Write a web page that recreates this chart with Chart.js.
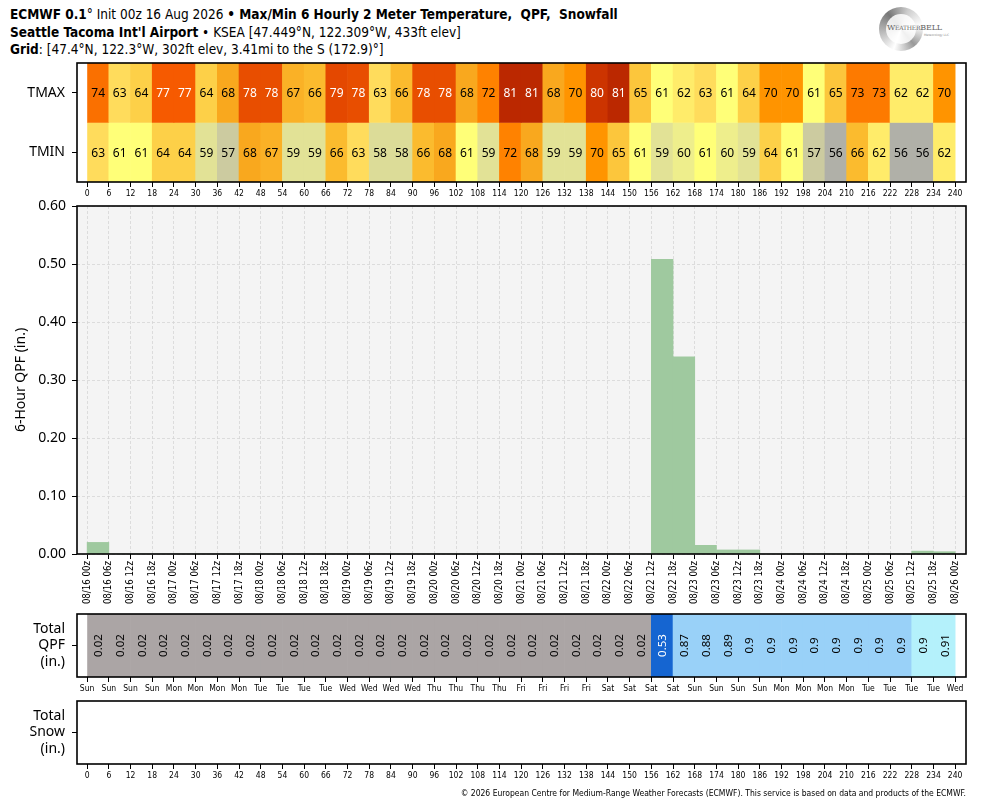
<!DOCTYPE html>
<html>
<head>
<meta charset="utf-8">
<script src="https://cdn.jsdelivr.net/npm/chart.js@4.4.1/dist/chart.umd.min.js"></script>
<style>
  body { margin: 0; background: #fff; width: 984px; height: 808px; position: relative; overflow: hidden; }
  canvas { position: absolute; left: 0; }
  #hdr { position: absolute; left: 10px; top: 6px; font-family: 'DejaVu Sans Condensed', 'Liberation Sans Narrow', sans-serif; font-size: 13.5px; line-height: 17.5px; color: #000; white-space: nowrap; }
  #hdr b { font-weight: bold; }
  #foot { position: absolute; right: 18px; top: 788px; font-family: 'DejaVu Sans Condensed', 'Liberation Sans Narrow', sans-serif; font-size: 8.5px; color: #000; white-space: nowrap; }
  #logo { position: absolute; left: 879px; top: 7px; width: 44px; height: 44px; border-radius: 50%;
          background: conic-gradient(from 200deg, #fff, #bbb, #777, #ccc, #fff, #999, #fff); }
  #logo:after { content: ''; position: absolute; left: 7px; top: 7px; width: 30px; height: 30px; border-radius: 50%; background: rgba(255,255,255,0.85); }
  #logotxt { position: absolute; left: 887px; top: 23px; font-family: 'DejaVu Serif', serif; font-size: 8px; color: #666; font-variant: small-caps; letter-spacing: -0.2px; }
  #logollc { position: absolute; left: 924px; top: 33px; font-family: 'DejaVu Sans', sans-serif; font-size: 3px; color: #888; }
</style>
</head>
<body>
<div id="hdr">
  <div><b>ECMWF 0.1</b>° Init 00z 16 Aug 2026 <b>• Max/Min 6 Hourly 2 Meter Temperature,&nbsp; QPF,&nbsp; Snowfall</b></div>
  <div><b>Seattle Tacoma Int'l Airport</b> • KSEA [47.449°N, 122.309°W, 433ft elev]</div>
  <div><b>Grid</b>: [47.4°N, 122.3°W, 302ft elev, 3.41mi to the S (172.9)°]</div>
</div>
<div id="logo"></div>
<div id="logotxt">WeatherBELL</div>
<div id="logollc">Meteorology LLC</div>

<canvas id="temp" width="984" height="154" style="top:50px"></canvas>
<canvas id="qpf" width="984" height="424" style="top:190px"></canvas>
<canvas id="total" width="984" height="102" style="top:598px"></canvas>
<canvas id="snow" width="984" height="106" style="top:685px"></canvas>

<div id="foot">© 2026 European Centre for Medium-Range Weather Forecasts (ECMWF). This service is based on data and products of the ECMWF.</div>

<script>
// forecast hours (tick positions) and 6-hour period starts
const hours = [0, 6, 12, 18, 24, 30, 36, 42, 48, 54, 60, 66, 72, 78, 84, 90, 96, 102, 108, 114, 120,
  126, 132, 138, 144, 150, 156, 162, 168, 174, 180, 186, 192, 198, 204, 210, 216, 222, 228, 234, 240];
const periodStart = hours.slice(0, 40);

const dateLabels = ['08/16 00z', '08/16 06z', '08/16 12z', '08/16 18z', '08/17 00z', '08/17 06z', '08/17 12z', '08/17 18z',
  '08/18 00z', '08/18 06z', '08/18 12z', '08/18 18z', '08/19 00z', '08/19 06z', '08/19 12z', '08/19 18z',
  '08/20 00z', '08/20 06z', '08/20 12z', '08/20 18z', '08/21 00z', '08/21 06z', '08/21 12z', '08/21 18z',
  '08/22 00z', '08/22 06z', '08/22 12z', '08/22 18z', '08/23 00z', '08/23 06z', '08/23 12z', '08/23 18z',
  '08/24 00z', '08/24 06z', '08/24 12z', '08/24 18z', '08/25 00z', '08/25 06z', '08/25 12z', '08/25 18z', '08/26 00z'];
const dayLabels = ['Sun', 'Sun', 'Sun', 'Sun', 'Mon', 'Mon', 'Mon', 'Mon', 'Tue', 'Tue', 'Tue', 'Tue',
  'Wed', 'Wed', 'Wed', 'Wed', 'Thu', 'Thu', 'Thu', 'Thu', 'Fri', 'Fri', 'Fri', 'Fri', 'Sat', 'Sat', 'Sat', 'Sat',
  'Sun', 'Sun', 'Sun', 'Sun', 'Mon', 'Mon', 'Mon', 'Mon', 'Tue', 'Tue', 'Tue', 'Tue', 'Wed'];

const tmax = [74, 63, 64, 77, 77, 64, 68, 78, 78, 67, 66, 79, 78, 63, 66, 78, 78, 68, 72, 81,
  81, 68, 70, 80, 81, 65, 61, 62, 63, 61, 64, 70, 70, 61, 65, 73, 73, 62, 62, 70];
const tmin = [63, 61, 61, 64, 64, 59, 57, 68, 67, 59, 59, 66, 63, 58, 58, 66, 68, 61, 59, 72,
  68, 59, 59, 70, 65, 61, 59, 60, 61, 60, 59, 64, 61, 57, 56, 66, 62, 56, 56, 62];

// 6-hour QPF (in.)
const qpf6h = [0.02, 0, 0, 0, 0, 0, 0, 0, 0, 0, 0, 0, 0, 0, 0, 0, 0, 0, 0, 0,
  0, 0, 0, 0, 0, 0, 0.508, 0.34, 0.015, 0.007, 0.007, 0, 0, 0, 0, 0, 0, 0, 0.005, 0.004];
// running total QPF (in.)
const totalQpf = [0.02, 0.02, 0.02, 0.02, 0.02, 0.02, 0.02, 0.02, 0.02, 0.02, 0.02, 0.02, 0.02, 0.02, 0.02, 0.02,
  0.02, 0.02, 0.02, 0.02, 0.02, 0.02, 0.02, 0.02, 0.02, 0.02, 0.528, 0.868, 0.883, 0.89, 0.897, 0.897,
  0.897, 0.897, 0.897, 0.897, 0.897, 0.897, 0.902, 0.906];
const totalSnow = [0, 0, 0, 0, 0, 0, 0, 0, 0, 0, 0, 0, 0, 0, 0, 0, 0, 0, 0, 0,
  0, 0, 0, 0, 0, 0, 0, 0, 0, 0, 0, 0, 0, 0, 0, 0, 0, 0, 0, 0];

const NARROW = "'DejaVu Sans Condensed', 'Liberation Sans Narrow', sans-serif";
const SANS = "'Noto Sans', 'Open Sans', sans-serif";
const X_MIN = -2.8, X_MAX = 243;

const tempColors = {
  56: '#b0b0a8', 57: '#cccba0', 58: '#dcdc98', 59: '#e2e296', 60: '#eeee8c', 61: '#ffff78', 62: '#ffec6a',
  63: '#ffdc5c', 64: '#fdd048', 65: '#fcc63c', 66: '#fbbb2e', 67: '#fab126', 68: '#f9a81e', 70: '#ff9400',
  72: '#ff8200', 73: '#fd7a00', 74: '#fa7000', 77: '#f65a00', 78: '#e84e00', 79: '#e44800',
  80: '#cc3400', 81: '#bb2800'
};
function tempColor(v) { return tempColors[v] || '#ffffff'; }
function qpfColor(v) {
  if (v <= 0) return 'rgba(0,0,0,0)';
  if (v < 0.1) return '#aba5a5';
  if (v < 0.75) return '#1565d1';
  if (v < 0.9) return '#99d1f8';
  return '#b4f1fb';
}

function cells(values, row) {
  return values.map((v, i) => ({ x: [periodStart[i], periodStart[i] + 6], y: row }));
}
function fixTicks(scale) { scale.ticks = hours.map(h => ({ value: h })); }

function frame(fill) {
  return {
    id: 'frame',
    beforeDraw(chart) {
      if (!fill) return;
      const a = chart.chartArea, ctx = chart.ctx;
      ctx.save(); ctx.fillStyle = fill; ctx.fillRect(a.left, a.top, a.width, a.height); ctx.restore();
    },
    afterDraw(chart) {
      const a = chart.chartArea, ctx = chart.ctx;
      ctx.save(); ctx.strokeStyle = '#000'; ctx.lineWidth = 1.6;
      ctx.strokeRect(a.left, a.top, a.width, a.height); ctx.restore();
    }
  };
}

function cellText(format, textColor, rotate, size) {
  return {
    id: 'cellText',
    afterDatasetsDraw(chart) {
      const ctx = chart.ctx;
      ctx.save();
      ctx.font = size + 'px ' + SANS;
      ctx.textAlign = 'center';
      ctx.textBaseline = 'middle';
      chart.data.datasets.forEach((ds, di) => {
        chart.getDatasetMeta(di).data.forEach((bar, i) => {
          const v = ds.values[i];
          const txt = format(v);
          if (txt === '') return;
          const p = bar.getCenterPoint();
          ctx.fillStyle = textColor(v);
          ctx.save();
          ctx.translate(p.x, p.y);
          if (rotate) ctx.rotate(-Math.PI / 2);
          ctx.fillText(txt, 0, 1);
          ctx.restore();
        });
      });
      ctx.restore();
    }
  };
}

function xAxis(labelFn, height, rotation, gridOnArea) {
  return {
    type: 'linear', min: X_MIN, max: X_MAX, offset: false,
    afterBuildTicks: fixTicks,
    afterFit(s) { s.height = height; s.paddingLeft = 0; s.paddingRight = 0; },
    ticks: { autoSkip: false, maxRotation: rotation, minRotation: rotation, padding: 2, color: '#000',
      font: { family: NARROW, size: rotation ? 9.6 : 8.5 }, callback: labelFn },
    grid: { offset: false, drawOnChartArea: gridOnArea, color: '#d6d6d6', lineWidth: 0.8,
      tickLength: 5, tickColor: '#000', tickWidth: 1, tickBorderDash: [] },
    border: { display: false, dash: [3, 2] }
  };
}
function yCat(width) {
  return {
    type: 'category', offset: true,
    afterFit(s) { s.width = width; s.paddingTop = 0; s.paddingBottom = 0; },
    ticks: { color: '#000', padding: 7, font: { family: SANS, size: 14 }, lineHeight: 1.25 },
    grid: { offset: false, drawOnChartArea: false, tickLength: 5, tickColor: '#000', tickWidth: 1 },
    border: { display: false }
  };
}
const barOpts = { bar: { categoryPercentage: 1, barPercentage: 1, grouped: false, borderWidth: 0 } };
const noPlugins = { legend: { display: false }, tooltip: { enabled: false } };

// temperature strip
new Chart(document.getElementById('temp'), {
  type: 'bar',
  data: {
    labels: ['TMAX', 'TMIN'],
    datasets: [
      { label: 'TMAX', data: cells(tmax, 'TMAX'), values: tmax, backgroundColor: tmax.map(tempColor) },
      { label: 'TMIN', data: cells(tmin, 'TMIN'), values: tmin, backgroundColor: tmin.map(tempColor) }
    ]
  },
  options: {
    indexAxis: 'y', responsive: false, animation: false, devicePixelRatio: 1,
    datasets: barOpts,
    layout: { padding: { top: 13, right: 18, left: 0, bottom: 0 } },
    scales: { x: xAxis(v => v, 22, 0, false), y: yCat(77) },
    plugins: noPlugins
  },
  plugins: [frame(null), cellText(v => String(v), v => v >= 77 ? '#fff' : '#000', false, 12)]
});

// 6-hour QPF bars
new Chart(document.getElementById('qpf'), {
  type: 'bar',
  data: {
    datasets: [{
      label: '6-Hour QPF', data: periodStart.map((h, i) => ({ x: h + 3, y: qpf6h[i] })),
      backgroundColor: '#9fc99f'
    }]
  },
  options: {
    responsive: false, animation: false, devicePixelRatio: 1,
    datasets: barOpts,
    layout: { padding: { top: 16, right: 18, left: 0, bottom: 0 } },
    scales: {
      x: xAxis((v, i) => dateLabels[i], 60, 90, true),
      y: {
        type: 'linear', min: 0, max: 0.6,
        afterFit(s) { s.width = 77; s.paddingTop = 0; s.paddingBottom = 0; },
        ticks: { stepSize: 0.1, color: '#000', padding: 6, font: { family: SANS, size: 14 }, callback: v => v.toFixed(2) },
        grid: { drawOnChartArea: true, color: '#d6d6d6', lineWidth: 0.8, tickLength: 5, tickColor: '#000', tickWidth: 1, tickBorderDash: [] },
        border: { display: false, dash: [3, 2] },
        title: { display: true, text: '6-Hour QPF (in.)', color: '#000', font: { family: SANS, size: 14 }, padding: { top: 13, bottom: 0 } }
      }
    },
    plugins: noPlugins
  },
  plugins: [frame('#f4f4f4')]
});

// total QPF strip
new Chart(document.getElementById('total'), {
  type: 'bar',
  data: {
    labels: [['Total', 'QPF', '(in.)']],
    datasets: [{ label: 'Total QPF', data: cells(totalQpf, 0), values: totalQpf, backgroundColor: totalQpf.map(qpfColor) }]
  },
  options: {
    indexAxis: 'y', responsive: false, animation: false, devicePixelRatio: 1,
    datasets: barOpts,
    layout: { padding: { top: 16, right: 18, left: 0, bottom: 0 } },
    scales: { x: xAxis((v, i) => dayLabels[i], 23, 0, false), y: yCat(77) },
    plugins: noPlugins
  },
  plugins: [frame(null), cellText(v => String(parseFloat(v.toFixed(2))), v => (v >= 0.1 && v < 0.75) ? '#fff' : '#000', true, 11.5)]
});

// total snow strip
new Chart(document.getElementById('snow'), {
  type: 'bar',
  data: {
    labels: [['Total', 'Snow', '(in.)']],
    datasets: [{ label: 'Total Snow', data: cells(totalSnow, 0), values: totalSnow, backgroundColor: totalSnow.map(qpfColor) }]
  },
  options: {
    indexAxis: 'y', responsive: false, animation: false, devicePixelRatio: 1,
    datasets: barOpts,
    layout: { padding: { top: 16, right: 18, left: 0, bottom: 0 } },
    scales: { x: xAxis(v => v, 27, 0, false), y: yCat(77) },
    plugins: noPlugins
  },
  plugins: [frame(null), cellText(v => v > 0 ? String(parseFloat(v.toFixed(1))) : '', () => '#000', true, 11.5)]
});
</script>
</body>
</html>
